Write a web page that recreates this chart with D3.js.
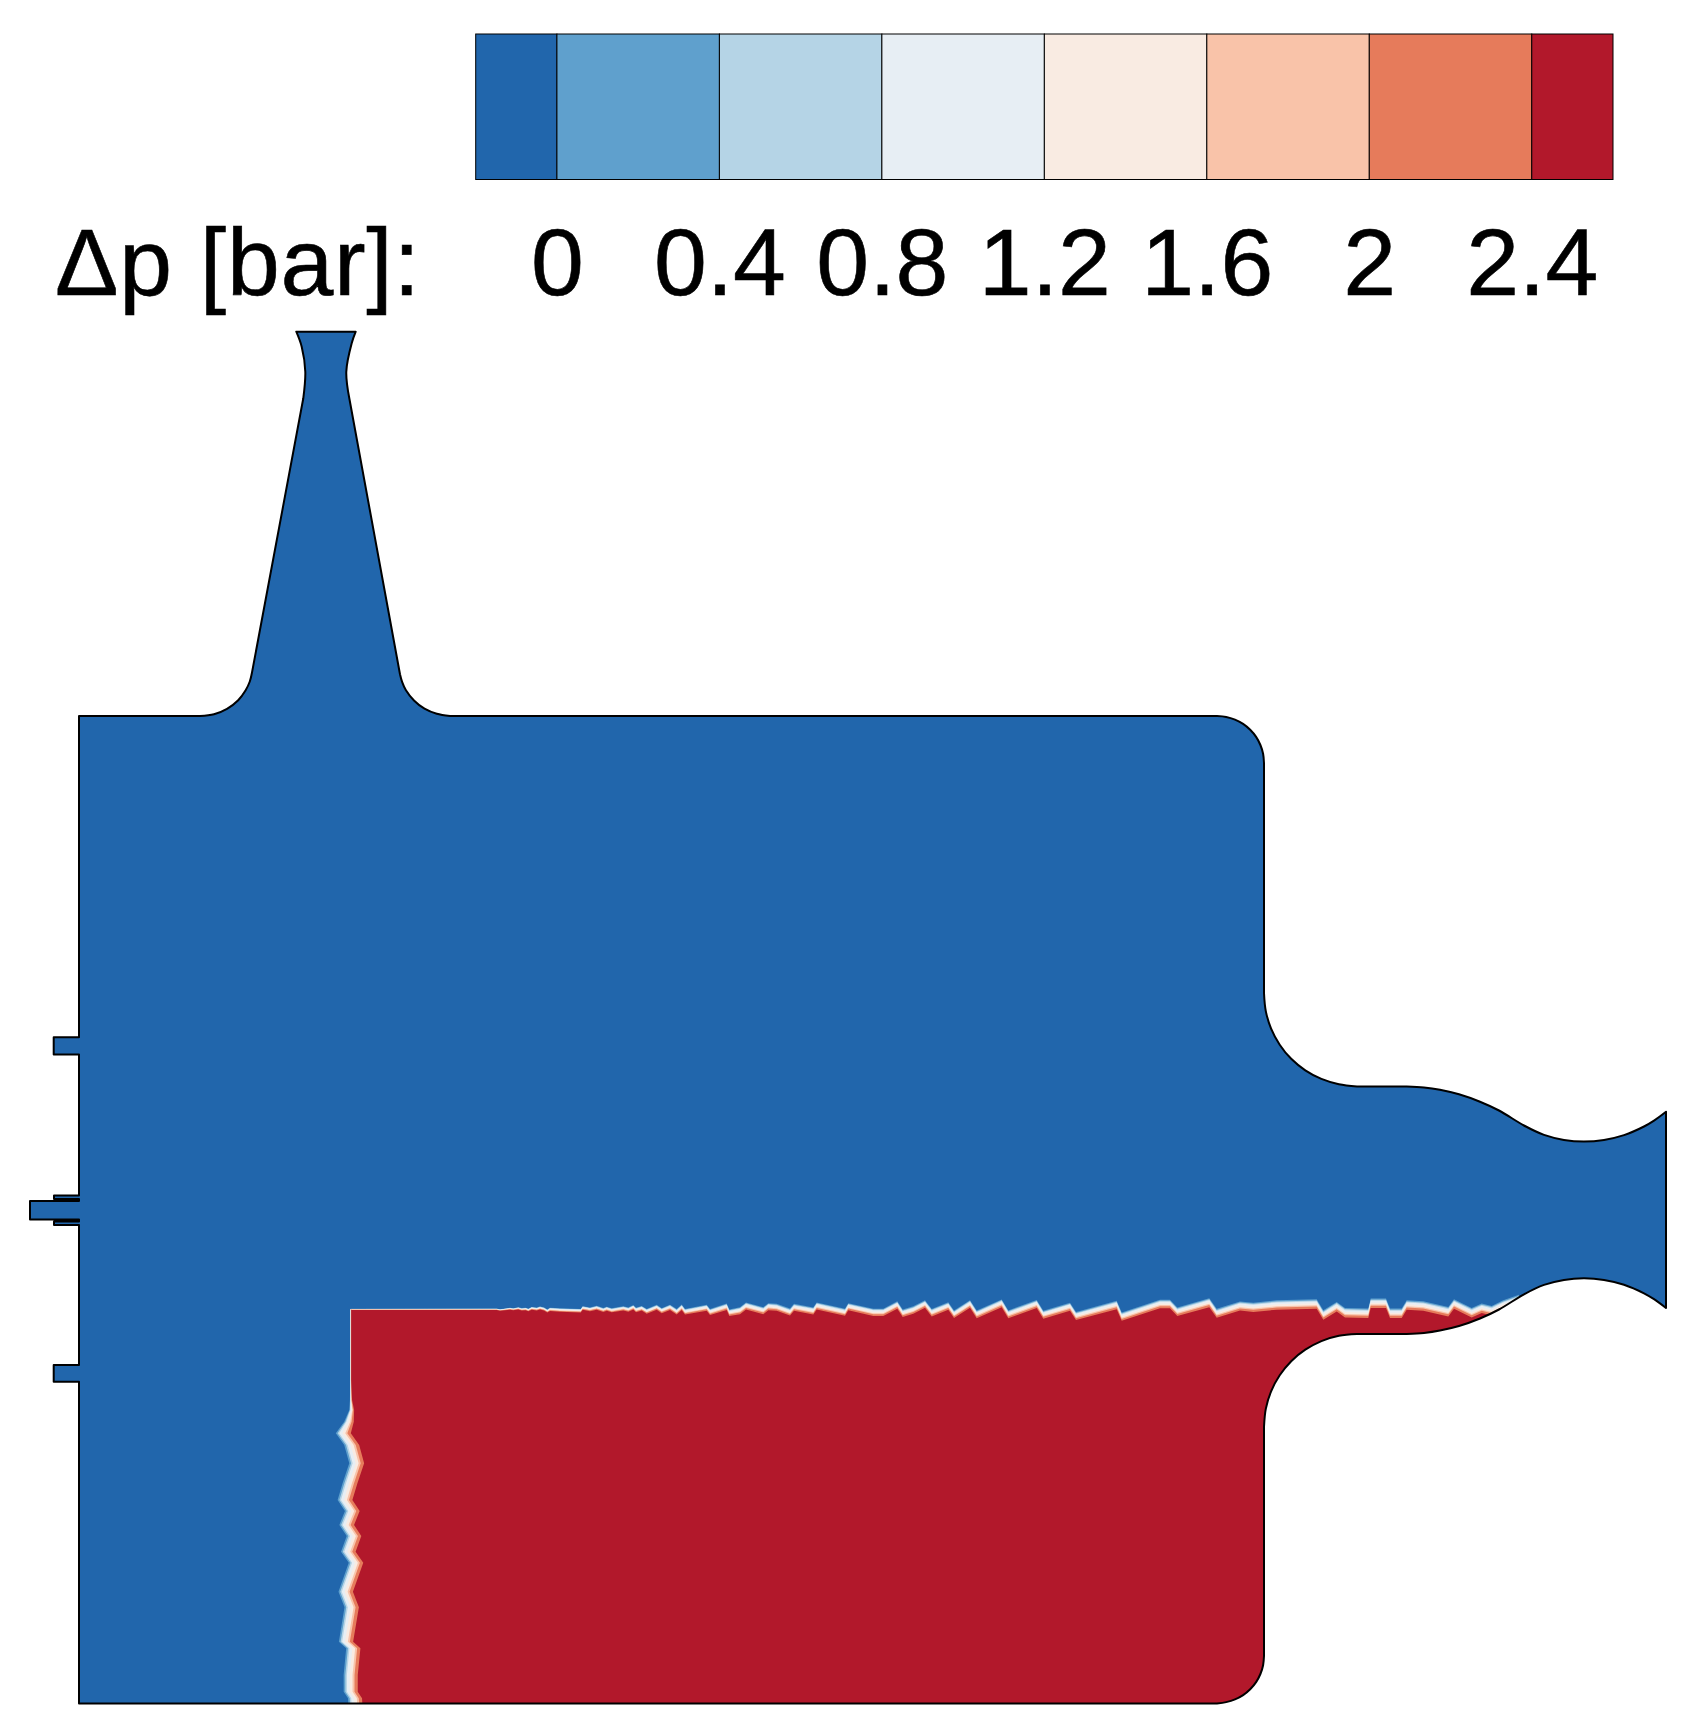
<!DOCTYPE html>
<html>
<head>
<meta charset="utf-8">
<style>
  html, body { margin: 0; padding: 0; background: #fff; }
  svg { display: block; }
</style>
<script src="https://cdn.jsdelivr.net/npm/d3@7"></script>
</head>
<body>
<script>
'use strict';

// colour bar
var levelEdges = [-0.2, 0, 0.4, 0.8, 1.2, 1.6, 2, 2.4, 2.6];
var levelColors = ['#2166ac', '#5fa0cd', '#b5d4e6', '#e7eef4', '#f9ebe2', '#f9c3a9', '#e67b5b', '#b2182b'];
var tickValues = [0, 0.4, 0.8, 1.2, 1.6, 2, 2.4];
var tickLabels = ['0', '0.4', '0.8', '1.2', '1.6', '2', '2.4'];
var barTitle = '\u0394p [bar]:';

// where each contour sits inside the front, as a share of its width (-.5 blue side, .5 red side)
var bandShares = [-0.5, -0.38, -0.27, -0.07, 0.13, 0.27, 0.5];

// chamber wall in model units, x along the axis, y up from the axis.
// every list is one smooth stretch, the joins stay sharp
var wallTop = [[0, 493.5], [121, 493.5]];
var filletLeft = [[121, 493.5], [135, 495.3], [148, 500.7], [159.2, 509.3], [166.5, 519], [170.8, 528], [173, 537]];
var spoutLeft = [[173, 537], [224.3, 811.2]];
var throatLeft = [[224.3, 811.2], [226.3, 837.8], [222.7, 862.8], [217.3, 877.8]];
var spoutEnd = [[217.3, 877.8], [276.7, 877.8]];
var throatRight = [[276.7, 877.8], [272.7, 866.2], [267.3, 837.8], [270.3, 811.2]];
var spoutRight = [[270.3, 811.2], [321, 535.3]];
var filletRight = [[321, 535.3], [323.1, 527.6], [326.8, 519.5], [335, 509], [345.5, 500.8], [357.8, 495.7], [371, 493.5]];
var roof = [[371, 493.5], [1138, 493.5]];
var cornerTop = [[1138, 493.5], [1147.2, 492.6], [1156, 489.9], [1164.1, 485.6], [1171.2, 479.7], [1177.1, 472.6], [1181.4, 464.5], [1184.1, 455.7], [1185, 446.5]];
var endWallTop = [[1185, 446.5], [1185, 216.5]];
var shoulderTop = [[1185, 216.5], [1186.8, 198.4], [1192.1, 180.9], [1200.7, 164.8], [1212.2, 150.7], [1226.3, 139.2], [1242.4, 130.6], [1259.9, 125.3], [1278, 123]];
var neckTop = [[1278, 123], [1327.7, 123]];
var nozzleTop = [[1327.7, 123], [1345, 122.1], [1361, 119.8], [1380, 115.2], [1401, 107.8], [1420, 99], [1445, 84], [1465, 74.6], [1485, 69.6], [1505, 68], [1525, 69.6], [1545, 74.4], [1565, 83], [1575, 88.9], [1587, 97.8]];
var outlet = [[1587, 97.8], [1587, -98.5]];
var nozzleBottom = [[1587, -98.5], [1575, -89.7], [1565, -83.8], [1545, -75.2], [1525, -70.4], [1505, -68.8], [1485, -70.4], [1465, -75.4], [1445, -84.8], [1420, -100], [1401, -109], [1380, -116.5], [1361, -121], [1345, -123.4], [1327.7, -124.5]];
var neckBottom = [[1327.7, -124.5], [1278, -124.5]];
var shoulderBottom = [[1278, -124.5], [1259.9, -126.3], [1242.4, -131.6], [1226.3, -140.2], [1212.2, -151.7], [1200.7, -165.8], [1192.1, -181.9], [1186.8, -199.4], [1185, -217.5]];
var endWallBottom = [[1185, -217.5], [1185, -446.5]];
var cornerBottom = [[1185, -446.5], [1184.1, -455.7], [1181.4, -464.5], [1177.1, -472.6], [1171.2, -479.7], [1164.1, -485.6], [1156, -489.9], [1147.2, -492.6], [1138, -494]];
var floor = [[1138, -494], [0, -494]];
var headWall = [
  [0, -494], [0, -172.2], [-25.3, -172.2], [-25.3, -155.5], [0, -155.5],
  [0, -15.5], [-25, -15.5], [-25, -12], [0, -12], [0, -10],
  [-49, -10], [-49, 8.5], [0, 8.5], [0, 10.5], [-25, 10.5], [-25, 14], [0, 14],
  [0, 155], [-25.3, 155], [-25.3, 172.2], [0, 172.2], [0, 493.5]
];
var smoothParts = [filletLeft, throatLeft, throatRight, filletRight, cornerTop, shoulderTop, nozzleTop, nozzleBottom, shoulderBottom, cornerBottom];
var wallParts = [wallTop, filletLeft, spoutLeft, throatLeft, spoutEnd, throatRight, spoutRight, filletRight, roof, cornerTop,
  endWallTop, shoulderTop, neckTop, nozzleTop, outlet, nozzleBottom, neckBottom, shoulderBottom, endWallBottom, cornerBottom, floor, headWall];

// pressure front, horizontal part, left to right
var frontTop = [
  [271.7, -99.8], [417.7, -99.8], [421, -100.5], [431, -99.2], [434.3, -99.8], [439.3, -98.8], [442.7, -99.8], [446.7, -99.5],
  [449.3, -100.5], [452.7, -98.8], [457.7, -99.5], [461, -98.5], [465, -99.5], [468.3, -101.5], [471, -99.8], [481, -100.5],
  [501.7, -101.2], [503.7, -98.5], [511, -99.8], [517.7, -98.2], [524.3, -100.5], [527.7, -99.2], [532.7, -100.8], [544.3, -98.8],
  [549.3, -100.2], [554.3, -97.8], [557, -100.5], [562.7, -98.8], [567.7, -101.8], [577.7, -97.8], [582.7, -101.2], [591, -97.8],
  [597.7, -102.2], [602.7, -97.8], [606, -102.2], [627.7, -98.2], [631, -102.5], [647.7, -97.2], [650.3, -103.2], [661, -101.2],
  [667, -96.5], [684.3, -101.2], [689.3, -97.2], [697.7, -97.8], [711, -102.6], [715, -97.8], [734.3, -101.5], [737.7, -96.5],
  [766, -102.8], [769.3, -97.2], [794.3, -102.8], [804.3, -102.8], [818.3, -95.5], [823.7, -103.8], [834.3, -100.5], [846, -94.5],
  [852.7, -103.2], [869.3, -96.5], [875, -104.8], [891, -94.5], [897.7, -104.8], [922.7, -93.8], [929.3, -104.8], [957.7, -94.5],
  [964.3, -105.2], [991, -97.2], [997, -106.5], [1037.7, -95.5], [1042.7, -107.2], [1081, -94.5], [1091, -94.5], [1098.3, -102.2],
  [1130.3, -93.2], [1137.7, -103.8], [1161, -96.5], [1174.3, -97.8], [1197.7, -95.5], [1237.7, -94.5], [1244.3, -105.5], [1257.7, -97.2],
  [1266, -103.2], [1289.3, -103.8], [1291.7, -93.8], [1307, -93.8], [1311, -103.8], [1322.7, -103.8], [1327.7, -95.5], [1344.3, -96.5],
  [1369.3, -102.2], [1375, -94.5], [1392.7, -103.2], [1402.7, -98.8], [1412.7, -101.2], [1424.3, -95.5], [1440, -90]
];
// pressure front, vertical part, top to bottom
var frontLeft = [
  [271.7, -99.8], [271.7, -170.5], [272, -190.5], [272.7, -200.5], [270, -212.2], [264.3, -223.8], [272.7, -235.5], [277.7, -253.8],
  [271, -273.8], [266, -290.5], [273.3, -301.5], [267.7, -315.5], [275, -326.5], [269.3, -342.2], [277, -353.2], [266.7, -382.2],
  [272.7, -397.8], [267, -432.2], [274.3, -438.8], [271.7, -465.5], [271.7, -482.2], [276, -488.8], [276.7, -500]
];
// width of the front along each part
var topWidthAt = [271, 418, 461, 561, 667, 740, 1086, 1200, 1440];
var topWidth = [1, 1.5, 3, 4.5, 7, 7, 8.5, 9.5, 9.5];
var leftWidthAt = [-99, -170, -190, -205, -223, -500];
var leftWidth = [1, 1, 2, 6, 15, 14];
var redFarCorners = [[1440, -500]];

var width = 1689, height = 1728;

var svg = d3.select('body').append('svg')
  .attr('width', width)
  .attr('height', height);

// ---- colour bar
var barX = d3.scaleLinear().domain([-0.2, 2.6]).range([475.7, 1613]);
var barTop = 34, barBottom = 179.5;

svg.append('g').selectAll('rect')
  .data(levelColors)
  .enter().append('rect')
  .attr('x', function(d, i) { return barX(levelEdges[i]); })
  .attr('y', barTop)
  .attr('width', function(d, i) { return barX(levelEdges[i + 1]) - barX(levelEdges[i]); })
  .attr('height', barBottom - barTop)
  .attr('fill', function(d) { return d; })
  .attr('stroke', '#000')
  .attr('stroke-width', 1);

var barAxis = d3.axisBottom(barX)
  .tickValues(tickValues)
  .tickSize(0)
  .tickPadding(48)
  .tickFormat(function(d, i) { return tickLabels[i]; });

var axisG = svg.append('g')
  .attr('transform', 'translate(0,' + barBottom + ')')
  .call(barAxis);
axisG.select('.domain').remove();
axisG.selectAll('text')
  .attr('fill', '#000')
  .attr('stroke', '#000')
  .attr('stroke-width', 0.6)
  .style('font-family', '"Liberation Sans", Arial, sans-serif')
  .style('font-size', '95px');

svg.append('text')
  .attr('x', 55)
  .attr('y', 295)
  .attr('fill', '#000')
  .attr('stroke', '#000')
  .attr('stroke-width', 0.6)
  .style('font-family', '"Liberation Sans", Arial, sans-serif')
  .style('font-size', '95px')
  .style('letter-spacing', '0.7px')
  .text(barTitle);

// ---- chamber
var x = d3.scaleLinear().domain([0, 1587]).range([79, 1666]);
var y = d3.scaleLinear().domain([-494, 494]).range([1703.5, 715.5]);

var straight = d3.line().x(function(d) { return x(d[0]); }).y(function(d) { return y(d[1]); });
var smooth = d3.line().x(function(d) { return x(d[0]); }).y(function(d) { return y(d[1]); })
  .curve(d3.curveCatmullRom.alpha(0.5));

var wallPath = wallParts.map(function(part, i) {
  var s = smoothParts.indexOf(part) >= 0 ? smooth(part) : straight(part);
  return i === 0 ? s : s.replace(/^M/, 'L');
}).join('') + 'Z';

svg.append('clipPath').attr('id', 'chamber').append('path').attr('d', wallPath);

svg.append('path')
  .attr('d', wallPath)
  .attr('fill', levelColors[0]);

var topW = d3.scaleLinear().domain(topWidthAt).range(topWidth).clamp(true);
var leftW = d3.scaleLinear().domain(leftWidthAt).range(leftWidth).clamp(true);

// one filled layer per contour, painted from the blue side to the red side
var layers = svg.append('g').attr('clip-path', 'url(#chamber)');
layers.selectAll('path')
  .data(bandShares)
  .enter().append('path')
  .attr('fill', function(d, i) { return levelColors[i + 1]; })
  .attr('d', function(share) {
    var left = frontLeft.map(function(p) { return [p[0] + share * leftW(p[1]), p[1]]; }).reverse();
    var top = frontTop.map(function(p) { return [p[0], p[1] - share * topW(p[0])]; });
    return straight(left.concat(top, redFarCorners)) + 'Z';
  });

svg.append('path')
  .attr('d', wallPath)
  .attr('fill', 'none')
  .attr('stroke', '#000')
  .attr('stroke-width', 2)
  .attr('stroke-linejoin', 'round');
</script>
</body>
</html>
